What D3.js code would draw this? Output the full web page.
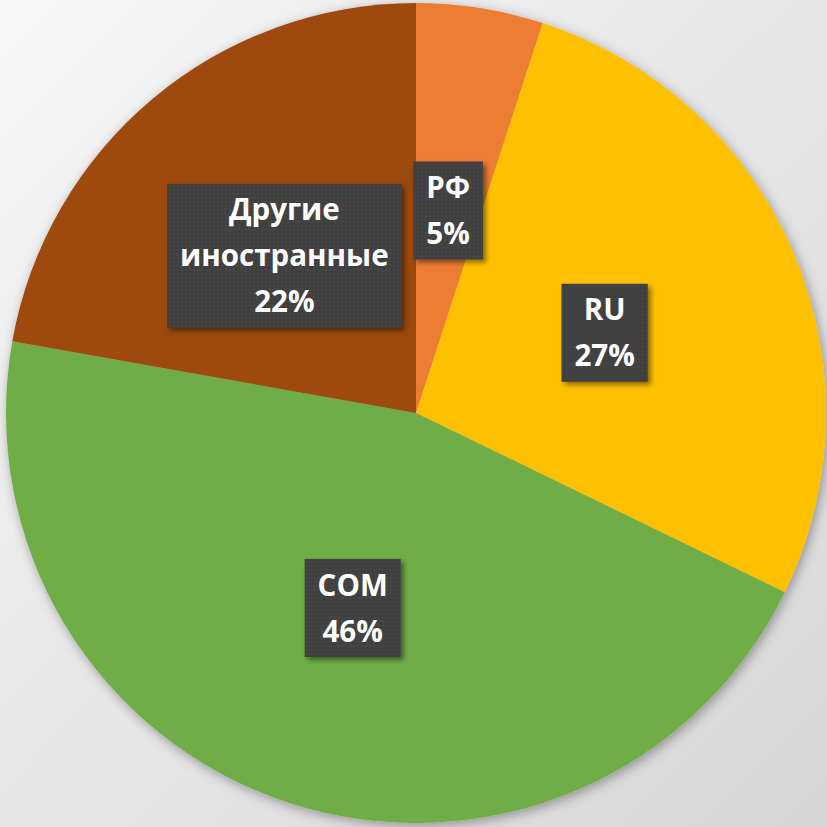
<!DOCTYPE html>
<html>
<head>
<meta charset="utf-8">
<script src="https://cdn.jsdelivr.net/npm/d3@7"></script>
<style>
  html, body { margin: 0; padding: 0; background: #eeeeee; }
  svg { display: block; }
</style>
</head>
<body>
<div id="chart"></div>
<script>
// data
var categories = ["РФ", "RU", "COM", "Другие иностранные"];
var values = [5.0, 27.2, 45.6, 22.2];
var colors = ["#ED7D31", "#FFC000", "#70AD47", "#9E480E"];

var width = 827, height = 827;
var cx = 416, cy = 413, radius = 410;

var svg = d3.select("#chart").append("svg")
    .attr("width", width)
    .attr("height", height);

var defs = svg.append("defs");

// background gradient
var bg = defs.append("linearGradient")
    .attr("id", "bg")
    .attr("x1", "0%").attr("y1", "0%")
    .attr("x2", "100%").attr("y2", "100%");
bg.append("stop").attr("offset", "0%").attr("stop-color", "#f7f7f7");
bg.append("stop").attr("offset", "100%").attr("stop-color", "#d6d6d6");

svg.append("rect")
    .attr("width", width).attr("height", height)
    .attr("fill", "url(#bg)");

// soft shadow behind pie
var pieShadow = defs.append("filter")
    .attr("id", "pieShadow")
    .attr("x", "-10%").attr("y", "-10%")
    .attr("width", "120%").attr("height", "120%");
pieShadow.append("feDropShadow")
    .attr("dx", 2).attr("dy", 3)
    .attr("stdDeviation", 6)
    .attr("flood-color", "#000")
    .attr("flood-opacity", 0.35);

// label shadow
var boxShadow = defs.append("filter")
    .attr("id", "boxShadow")
    .attr("x", "-20%").attr("y", "-20%")
    .attr("width", "150%").attr("height", "150%");
boxShadow.append("feDropShadow")
    .attr("dx", 3).attr("dy", 3)
    .attr("stdDeviation", 2.5)
    .attr("flood-color", "#000")
    .attr("flood-opacity", 0.45);

// dotted texture for label boxes
var pat = defs.append("pattern")
    .attr("id", "dots")
    .attr("width", 4).attr("height", 4)
    .attr("patternUnits", "userSpaceOnUse");
pat.append("rect").attr("width", 4).attr("height", 4).attr("fill", "#3f3f3f");
pat.append("rect").attr("x", 1).attr("y", 1).attr("width", 1.5).attr("height", 1.5).attr("fill", "#4d4d4d");

var g = svg.append("g")
    .attr("transform", "translate(" + cx + "," + cy + ")");

var pie = d3.pie().sort(null).value(function(d) { return d.value; });
var arc = d3.arc().innerRadius(0).outerRadius(radius);

var data = categories.map(function(c, i) {
    return {name: c, value: values[i], color: colors[i]};
});
var arcs = pie(data);
var total = d3.sum(values);

g.append("g")
    .attr("filter", "url(#pieShadow)")
    .selectAll("path")
    .data(arcs)
    .enter().append("path")
    .attr("d", arc)
    .attr("fill", function(d) { return d.data.color; });

// labels
var lineH = 46;
var labels = g.selectAll(".label")
    .data(arcs)
    .enter().append("g")
    .attr("class", "label")
    .attr("transform", function(d) {
        var c = arc.centroid(d);
        return "translate(" + c[0] + "," + c[1] + ")";
    });

labels.each(function(d) {
    var el = d3.select(this);
    var lines = d.data.name.split(" ");
    lines.push(Math.round(d.data.value / total * 100) + "%");

    var rect = el.append("rect")
        .attr("fill", "url(#dots)")
        .attr("filter", "url(#boxShadow)");

    var text = el.append("text")
        .attr("text-anchor", "middle")
        .attr("fill", "#ffffff")
        .style("font-family", "'Open Sans', sans-serif")
        .style("font-weight", "bold")
        .style("font-size", "29.5px");

    var y0 = -(lines.length - 1) * lineH / 2;
    lines.forEach(function(l, i) {
        text.append("tspan")
            .attr("x", 0)
            .attr("y", y0 + i * lineH)
            .attr("dy", "0.36em")
            .text(l);
    });

    var w = text.node().getBBox().width + 26;
    var h = lines.length * lineH + 6;
    rect.attr("x", -w / 2).attr("y", -h / 2)
        .attr("width", w).attr("height", h);
});
</script>
</body>
</html>
